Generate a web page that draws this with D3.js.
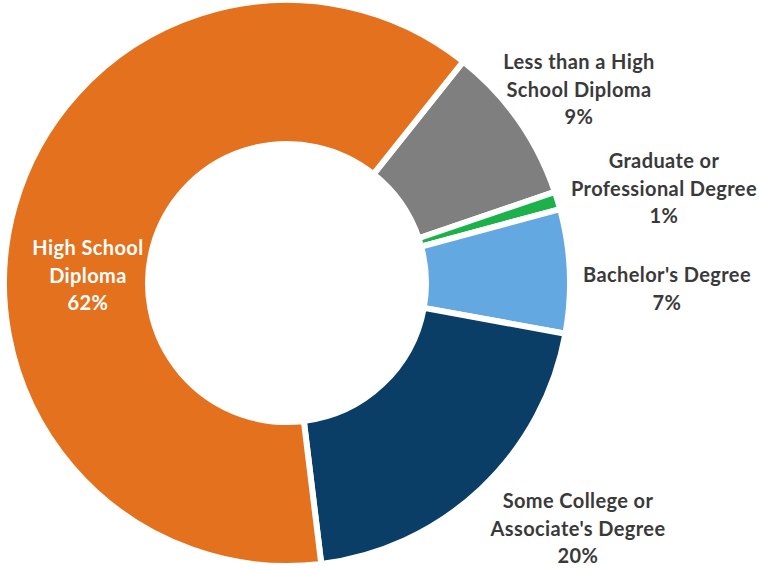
<!DOCTYPE html>
<html>
<head>
<meta charset="utf-8">
<script src="https://cdn.jsdelivr.net/npm/d3@7"></script>
<style>
  html, body { margin: 0; padding: 0; background: #fff; }
  svg { display: block; }
</style>
</head>
<body>
<svg id="chart" width="759" height="569"></svg>
<script>
// Educational attainment shares, listed clockwise starting after the top-right gap
const categories = [
  "Less than a High School Diploma",
  "Graduate or Professional Degree",
  "Bachelor's Degree",
  "Some College or Associate's Degree",
  "High School Diploma"
];
const values = [9, 1, 7, 20, 62];
const colors = ["#7F7F7F", "#1DB14B", "#64A8E2", "#0A3E66", "#E3711E"];
// Label lines for each slice (last line is the percentage)
const labelLines = [
  ["Less than a High", "School Diploma"],
  ["Graduate or", "Professional Degree"],
  ["Bachelor's Degree"],
  ["Some College or", "Associate's Degree"],
  ["High School", "Diploma"]
];

const svg = d3.select("#chart");
const cx = 287, cy = 283;
const outerR = 283, innerR = 139;

const pie = d3.pie()
  .sort(null)
  .value(d => d)
  .startAngle(38.5 * Math.PI / 180)
  .endAngle(38.5 * Math.PI / 180 + 2 * Math.PI);

const arc = d3.arc().innerRadius(innerR).outerRadius(outerR);

const g = svg.append("g").attr("transform", `translate(${cx},${cy})`);

g.selectAll("path.slice")
  .data(pie(values))
  .join("path")
  .attr("class", "slice")
  .attr("d", arc)
  .attr("fill", (d, i) => colors[i])
  .attr("stroke", "#fff")
  .attr("stroke-width", 6)
  .attr("stroke-linejoin", "miter");

// Label anchors (centre x, first baseline y)
const labelPos = [
  { x: 579, y: 69, fill: "#3A3A3A" },
  { x: 664, y: 168, fill: "#3A3A3A" },
  { x: 667, y: 282, fill: "#3A3A3A" },
  { x: 578, y: 508, fill: "#3A3A3A" },
  { x: 88, y: 255, fill: "#FFFFFF" }
];
const lineH = 27.5;

categories.forEach((c, i) => {
  const lines = labelLines[i].concat([values[i] + "%"]);
  const t = svg.append("text")
    .attr("text-anchor", "middle")
    .attr("font-family", "Lato, 'Open Sans', sans-serif")
    .attr("font-weight", "bold")
    .attr("font-size", 20)
    .attr("letter-spacing", 0.4)
    .attr("fill", labelPos[i].fill);
  lines.forEach((l, k) => {
    t.append("tspan")
      .attr("x", labelPos[i].x)
      .attr("y", labelPos[i].y + k * lineH)
      .text(l);
  });
});
</script>
</body>
</html>
